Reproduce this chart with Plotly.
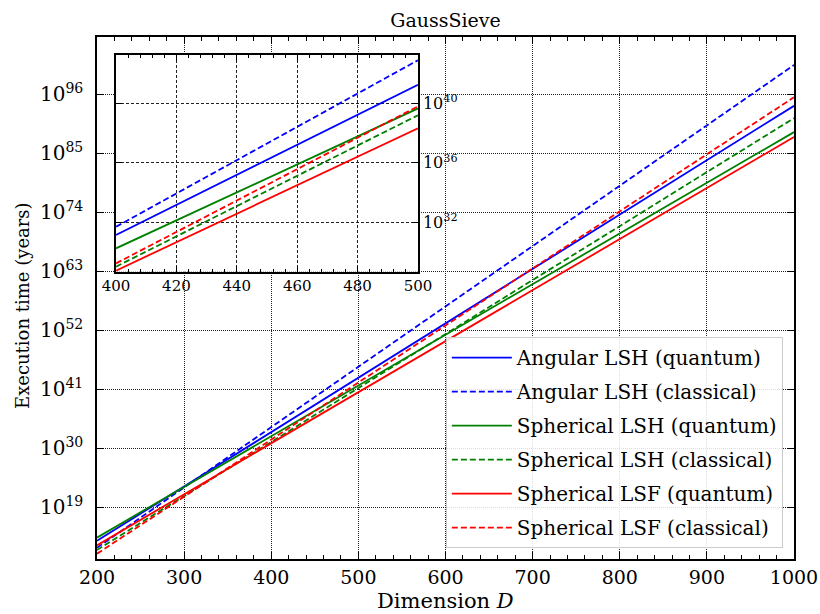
import numpy as np
import plotly.graph_objects as go

# Series names, colours and dash styles
NAMES = [
    "Angular LSH (quantum)",
    "Angular LSH (classical)",
    "Spherical LSH (quantum)",
    "Spherical LSH (classical)",
    "Spherical LSF (quantum)",
    "Spherical LSF (classical)",
]
COLORS = ["#0000ff", "#0000ff", "#008000", "#008000", "#ff0000", "#ff0000"]
DASHES = ["solid", "6px,3px", "solid", "6px,3px", "solid", "6px,3px"]

# Main panel: dimension D and log10 of execution time (years)
D_MAIN = [200, 1000]
LOG_ANG_Q = [12.7, 93.8]
LOG_ANG_C = [11.4, 101.4]
LOG_SPH_LSH_Q = [13.3, 88.9]
LOG_SPH_LSH_C = [11.0, 91.5]
LOG_SPH_LSF_Q = [11.85, 88.0]
LOG_SPH_LSF_C = [10.3, 95.4]

# Inset panel: zoom on 400 <= D <= 500
D_INSET = [400, 500]
INSET_ANG_Q = [31.15, 41.25]
INSET_ANG_C = [31.70, 42.9]
INSET_SPH_LSH_Q = [30.25, 39.66]
INSET_SPH_LSH_C = [29.02, 39.2]
INSET_SPH_LSF_Q = [28.75, 38.32]
INSET_SPH_LSF_C = [29.24, 39.8]

MAIN_Y_EXP = [19, 30, 41, 52, 63, 74, 85, 96]
INSET_Y_EXP = [32, 36, 40]

main_series = [LOG_ANG_Q, LOG_ANG_C, LOG_SPH_LSH_Q, LOG_SPH_LSH_C, LOG_SPH_LSF_Q, LOG_SPH_LSF_C]
inset_series = [INSET_ANG_Q, INSET_ANG_C, INSET_SPH_LSH_Q, INSET_SPH_LSH_C, INSET_SPH_LSF_Q, INSET_SPH_LSF_C]

FAMILY = "DejaVu Serif"


def f(size):
    return dict(family=FAMILY, size=size, color="black")


fig = go.Figure()
for name, c, d, ys in zip(NAMES, COLORS, DASHES, main_series):
    fig.add_trace(go.Scatter(
        x=D_MAIN, y=10.0 ** np.array(ys), mode="lines", name=name,
        legendgroup=name, line=dict(color=c, width=1.8, dash=d),
        xaxis="x", yaxis="y",
    ))
for name, c, d, ys in zip(NAMES, COLORS, DASHES, inset_series):
    fig.add_trace(go.Scatter(
        x=D_INSET, y=10.0 ** np.array(ys), mode="lines", name=name,
        legendgroup=name, showlegend=False, line=dict(color=c, width=1.8, dash=d),
        xaxis="x2", yaxis="y2",
    ))

axis_common = dict(
    showline=True, linecolor="black", linewidth=1.5, mirror="ticks",
    ticks="inside", tickcolor="black", showgrid=True, gridcolor="#222",
    gridwidth=1, zeroline=False, automargin=False, ticklabeloverflow="allow",
)

fig.update_layout(
    width=820, height=614,
    margin=dict(l=97, r=26, t=37, b=55),
    paper_bgcolor="white", plot_bgcolor="white",
    font=f(20),
    title=dict(text="GaussSieve", x=0.5, xref="paper", xanchor="center",
               y=1 - 20 / 614, yanchor="middle", font=f(19)),
    xaxis=dict(
        **axis_common, domain=[0, 1], range=[200, 1000],
        tickvals=list(range(200, 1001, 100)), ticklen=7, tickwidth=1,
        griddash="1px,1px", tickfont=f(19),
        minor=dict(dtick=20, tick0=200, ticks="inside", ticklen=4,
                   tickcolor="black", showgrid=False),
    ),
    yaxis=dict(
        **axis_common, type="log", domain=[0, 1], range=[9.31, 106.63],
        tickvals=[10.0 ** e for e in MAIN_Y_EXP],
        ticktext=[f"10<sup>{e}</sup>" for e in MAIN_Y_EXP],
        ticklen=7, griddash="1px,1px", tickfont=f(20), ticklabelstandoff=8,
    ),
    xaxis2=dict(
        **axis_common, domain=[0.0273, 0.4605], anchor="y2", range=[400, 500],
        tickvals=list(range(400, 501, 20)), ticklen=6,
        griddash="3px,2px", tickfont=f(15),
        minor=dict(dtick=4, tick0=400, ticks="inside", ticklen=3,
                   tickcolor="black", showgrid=False),
    ),
    yaxis2=dict(
        **axis_common, type="log", domain=[0.5504, 0.9655], anchor="x2",
        range=[28.68, 43.25], side="right",
        tickvals=[10.0 ** e for e in INSET_Y_EXP],
        ticktext=[f"10<sup>{e}</sup>" for e in INSET_Y_EXP],
        ticklen=6, griddash="3px,2px", tickfont=f(16),
    ),
    legend=dict(
        x=0.984, y=0.021, xanchor="right", yanchor="bottom",
        bgcolor="rgba(255,255,255,0.85)", bordercolor="#cccccc", borderwidth=1,
        font=f(20), traceorder="grouped", tracegroupgap=5, itemwidth=60,
    ),
    annotations=[
        dict(text="Execution time (years)", xref="paper", yref="paper",
             x=(22 - 97) / 697, y=(559 - 306) / 522, xanchor="center",
             yanchor="middle", textangle=-90, showarrow=False, font=f(18)),
        dict(text="Dimension <i>D</i>", xref="paper", yref="paper",
             x=0.5, y=(559 - 601) / 522, xanchor="center", yanchor="middle",
             showarrow=False, font=f(21)),
    ],
)

fig.write_html("out.html")
